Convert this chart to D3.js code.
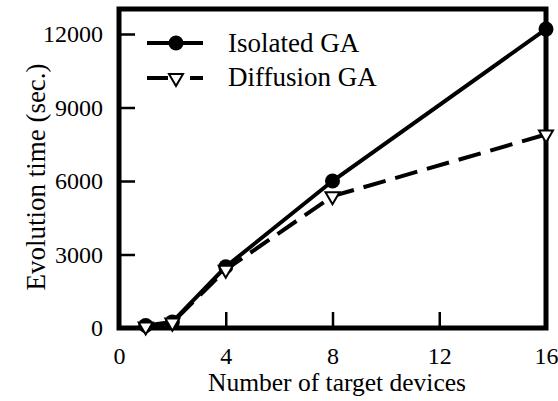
<!DOCTYPE html>
<html>
<head>
<meta charset="utf-8">
<script src="https://cdn.jsdelivr.net/npm/d3@7"></script>
</head>
<body style="margin:0;background:#fff">
<div class="myViz"></div>
<script>
// data
var devices = [1, 2, 4, 8, 16];
var isolatedGA = [100, 250, 2500, 6000, 12200];
var diffusionGA = [60, 220, 2380, 5380, 7900];
var xTicks = [0, 4, 8, 12, 16];
var yTicks = [0, 3000, 6000, 9000, 12000];
var seriesNames = ["Isolated GA", "Diffusion GA"];

var FONT = "'Liberation Serif', 'Times New Roman', serif";

var margin = {top: 9, right: 12, bottom: 73, left: 119},
    width = 558 - margin.left - margin.right,
    height = 401 - margin.top - margin.bottom;

var svg = d3.select(".myViz")
  .append("svg")
  .attr("width", 558)
  .attr("height", 401);

var chartGroup = svg.append("g")
  .attr("transform", `translate(${margin.left}, ${margin.top})`);

var x = d3.scaleLinear().domain([0, 16]).range([0, width]);
var y = d3.scaleLinear().domain([0, 12000 * 319 / 294]).range([height, 0]);

// axes: ticks point inward
var xAxis = chartGroup.append("g")
  .attr("transform", "translate(0," + height + ")")
  .call(d3.axisBottom(x).tickValues(xTicks).tickSize(-16).tickPadding(19).tickFormat(d3.format("d")));
var yAxis = chartGroup.append("g")
  .call(d3.axisLeft(y).tickValues(yTicks).tickSize(-16).tickPadding(16).tickFormat(d3.format("d")));

[xAxis, yAxis].forEach(a => {
  a.select(".domain").remove();
  a.selectAll("line").attr("stroke", "#000").attr("stroke-width", 2.5);
  a.selectAll("text").attr("fill", "#000")
    .style("font-family", FONT).style("font-size", "24px");
});
// the 0 tick marks sit on the frame
xAxis.selectAll(".tick").filter(d => d == 0).select("line").remove();
yAxis.selectAll(".tick").filter(d => d == 0).select("line").remove();

// frame
chartGroup.append("rect")
  .attr("width", width).attr("height", height)
  .attr("fill", "none").attr("stroke", "#000").attr("stroke-width", 5);

var line = d3.line().x(d => x(d[0])).y(d => y(d[1]));

var isoData = devices.map((d, i) => [d, isolatedGA[i]]);
var difData = devices.map((d, i) => [d, diffusionGA[i]]);

chartGroup.append("path").datum(isoData)
  .attr("d", line).attr("fill", "none").attr("stroke", "#000").attr("stroke-width", 4);
chartGroup.append("path").datum(difData)
  .attr("d", line).attr("fill", "none").attr("stroke", "#000").attr("stroke-width", 4)
  .attr("stroke-dasharray", "23,10");

chartGroup.selectAll(".iso").data(isoData).enter().append("circle")
  .attr("cx", d => x(d[0])).attr("cy", d => y(d[1])).attr("r", 7.5).attr("fill", "#000");

var tri = d3.symbol().type(d3.symbolTriangle).size(85);
chartGroup.selectAll(".dif").data(difData).enter().append("path")
  .attr("d", tri)
  .attr("transform", d => `translate(${x(d[0])},${y(d[1])}) rotate(180)`)
  .attr("fill", "#fff").attr("stroke", "#000").attr("stroke-width", 2);

// legend
var legend = svg.append("g");
legend.append("line").attr("x1", 147).attr("x2", 203).attr("y1", 43).attr("y2", 43)
  .attr("stroke", "#000").attr("stroke-width", 4);
legend.append("circle").attr("cx", 176).attr("cy", 43).attr("r", 7.5).attr("fill", "#000");
legend.append("text").attr("x", 228).attr("y", 52).text(seriesNames[0]);

legend.append("line").attr("x1", 147).attr("x2", 168).attr("y1", 78).attr("y2", 78)
  .attr("stroke", "#000").attr("stroke-width", 4);
legend.append("line").attr("x1", 190).attr("x2", 203).attr("y1", 78).attr("y2", 78)
  .attr("stroke", "#000").attr("stroke-width", 4);
legend.append("path").attr("d", tri)
  .attr("transform", "translate(176,78) rotate(180)")
  .attr("fill", "#fff").attr("stroke", "#000").attr("stroke-width", 2);
legend.append("text").attr("x", 228).attr("y", 86).text(seriesNames[1]);
legend.selectAll("text").style("font-family", FONT).style("font-size", "27px");

// axis titles
svg.append("text")
  .attr("x", 337).attr("y", 391)
  .attr("text-anchor", "middle")
  .style("font-family", FONT).style("font-size", "25.5px")
  .text("Number of target devices");
svg.append("text")
  .attr("transform", "translate(45,177) rotate(-90)")
  .attr("text-anchor", "middle")
  .style("font-family", FONT).style("font-size", "27px")
  .text("Evolution time (sec.)");
</script>
</body>
</html>
